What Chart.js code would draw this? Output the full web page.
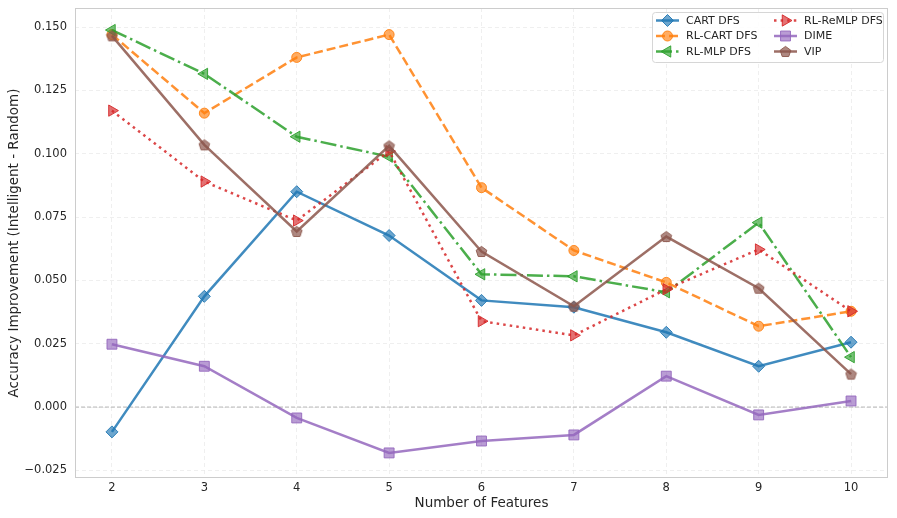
<!DOCTYPE html>
<html>
<head>
<meta charset="utf-8">
<script src="https://cdn.jsdelivr.net/npm/chart.js@4.4.1/dist/chart.umd.min.js"></script>
<style>
  html, body { margin: 0; padding: 0; background: #fff; }
  #wrap { width: 897px; height: 518px; position: relative; }
</style>
</head>
<body>
<div id="wrap"><canvas id="myChart"></canvas></div>
<script>
// values
var features = [2, 3, 4, 5, 6, 7, 8, 9, 10];
var cartDfs   = [-0.0098, 0.0437, 0.0850, 0.0677, 0.0421, 0.0394, 0.0295, 0.0161, 0.0256];
var rlCartDfs = [0.1470, 0.1160, 0.1380, 0.1470, 0.0866, 0.0618, 0.0492, 0.0319, 0.0378];
var rlMlpDfs  = [0.1488, 0.1315, 0.1067, 0.0988, 0.0524, 0.0516, 0.0453, 0.0728, 0.0197];
var rlReMlpDfs = [0.1170, 0.0890, 0.0736, 0.1010, 0.0339, 0.0283, 0.0465, 0.0622, 0.0378];
var dime      = [0.0248, 0.0161, -0.0043, -0.0181, -0.0134, -0.0110, 0.0122, -0.0031, 0.0024];
var vip       = [0.1465, 0.1035, 0.0693, 0.1031, 0.0614, 0.0398, 0.0673, 0.0469, 0.0130];
var yTicks = [-0.025, 0, 0.025, 0.05, 0.075, 0.1, 0.125, 0.15];

var FONT = '"DejaVu Sans", sans-serif';

function rgba(rgb, a) { return 'rgba(' + rgb + ',' + a + ')'; }

// pentagon marker for VIP (Chart.js has no pentagon style)
function pentagon(rgb) {
  var c = document.createElement('canvas');
  c.width = 13; c.height = 13;
  var g = c.getContext('2d');
  g.beginPath();
  for (var k = 0; k < 5; k++) {
    var a = -Math.PI / 2 + k * 2 * Math.PI / 5;
    var px = 6.5 + 5.6 * Math.cos(a), py = 7 + 5.6 * Math.sin(a);
    if (k === 0) g.moveTo(px, py); else g.lineTo(px, py);
  }
  g.closePath();
  g.fillStyle = rgba(rgb, 0.7);
  g.fill();
  g.lineWidth = 1;
  g.strokeStyle = rgba(rgb, 0.9);
  g.stroke();
  return c;
}

function pts(vals) {
  return features.map(function (f, i) { return {x: f, y: vals[i]}; });
}

var series = [
  {label: 'CART DFS', vals: cartDfs, rgb: '31,119,180', dash: [], style: 'rectRot', r: 6, rot: 0},
  {label: 'RL-CART DFS', vals: rlCartDfs, rgb: '255,127,14', dash: [9, 4], style: 'circle', r: 5, rot: 0},
  {label: 'RL-MLP DFS', vals: rlMlpDfs, rgb: '44,160,44', dash: [16, 4, 2.5, 4], style: 'triangle', r: 6.5, rot: -90},
  {label: 'RL-ReMLP DFS', vals: rlReMlpDfs, rgb: '214,39,40', dash: [2.5, 4.1], style: 'triangle', r: 6.5, rot: 90},
  {label: 'DIME', vals: dime, rgb: '148,103,189', dash: [], style: 'rect', r: 7, rot: 0},
  {label: 'VIP', vals: vip, rgb: '140,86,75', dash: [], style: null, r: 6, rot: 0}
];
series[5].style = pentagon(series[5].rgb);

var datasets = series.map(function (s, i) {
  return {
    label: s.label,
    data: pts(s.vals),
    borderColor: rgba(s.rgb, 0.85),
    backgroundColor: rgba(s.rgb, 0.7),
    borderWidth: 2.5,
    borderDash: s.dash,
    tension: 0,
    pointStyle: s.style,
    pointRadius: s.r,
    pointRotation: s.rot,
    pointBackgroundColor: rgba(s.rgb, 0.65),
    pointBorderColor: rgba(s.rgb, 0.9),
    pointBorderWidth: 1,
    order: 6 - i
  };
});

var extras = {
  id: 'extras',
  beforeDatasetsDraw: function (chart) {
    var ctx = chart.ctx, a = chart.chartArea;
    var y0 = chart.scales.y.getPixelForValue(0);
    ctx.save();
    ctx.strokeStyle = '#b5b5b5';
    ctx.lineWidth = 1;
    ctx.setLineDash([4, 2]);
    ctx.beginPath();
    ctx.moveTo(a.left, y0);
    ctx.lineTo(a.right, y0);
    ctx.stroke();
    ctx.restore();
  },
  afterDatasetsDraw: function (chart) {
    var ctx = chart.ctx, a = chart.chartArea;
    ctx.save();
    ctx.strokeStyle = '#cccccc';
    ctx.lineWidth = 1;
    ctx.strokeRect(a.left + 0.5, a.top + 0.5, a.right - a.left - 1, a.bottom - a.top - 1);
    ctx.restore();
  },
  afterDraw: function (chart) {
    var ctx = chart.ctx;
    ctx.save();
    // legend box
    var bx = 652, by = 12, bw = 231, bh = 50;
    ctx.fillStyle = 'rgba(255,255,255,0.85)';
    ctx.strokeStyle = '#d6d6d6';
    ctx.lineWidth = 1;
    ctx.beginPath();
    ctx.roundRect(bx + 0.5, by + 0.5, bw, bh, 3);
    ctx.fill();
    ctx.stroke();
    var cols = [656, 774];
    var rows = [20.5, 36, 51.5];
    ctx.font = '11px ' + FONT;
    ctx.textBaseline = 'middle';
    series.forEach(function (s, i) {
      var x = cols[Math.floor(i / 3)], y = rows[i % 3];
      ctx.strokeStyle = rgba(s.rgb, 0.85);
      ctx.lineWidth = 2.5;
      ctx.setLineDash(s.dash);
      ctx.beginPath();
      ctx.moveTo(x, y);
      ctx.lineTo(x + 23, y);
      ctx.stroke();
      ctx.setLineDash([]);
      ctx.fillStyle = rgba(s.rgb, 0.65);
      ctx.strokeStyle = rgba(s.rgb, 0.9);
      ctx.lineWidth = 1;
      Chart.helpers.drawPoint(ctx, {pointStyle: s.style, radius: s.r, rotation: s.rot, borderWidth: 1}, x + 11.5, y);
      ctx.fillStyle = '#262626';
      ctx.fillText(s.label, x + 30, y + 0.5);
    });
    ctx.restore();
  }
};

var ctx = document.getElementById('myChart').getContext('2d');
var myChart = new Chart(ctx, {
  type: 'line',
  data: { datasets: datasets },
  options: {
    responsive: true,
    maintainAspectRatio: false,
    animation: false,
    layout: { padding: { top: 7, right: 9, left: 0, bottom: 0 } },
    plugins: {
      legend: { display: false },
      tooltip: { enabled: false }
    },
    scales: {
      x: {
        type: 'linear',
        min: 1.6,
        max: 10.4,
        afterBuildTicks: function (scale) {
          scale.ticks = features.map(function (v) { return {value: v}; });
        },
        afterFit: function (scale) {
          scale.height = 40;
          scale.paddingLeft = 0;
          scale.paddingRight = 0;
        },
        grid: { color: '#ebebeb', lineWidth: 0.8, drawTicks: false },
        border: { display: false, dash: [4, 3] },
        ticks: {
          padding: 3,
          color: '#262626',
          font: { family: FONT, size: 11.5 },
          maxRotation: 0,
          callback: function (v) { return String(v); }
        },
        title: {
          display: true,
          text: 'Number of Features',
          color: '#262626',
          font: { family: FONT, size: 13.5 },
          padding: { top: 0, bottom: 6 }
        }
      },
      y: {
        type: 'linear',
        min: -0.028,
        max: 0.1575,
        afterBuildTicks: function (scale) {
          scale.ticks = yTicks.map(function (v) { return {value: v}; });
        },
        afterFit: function (scale) {
          scale.width = 75;
          scale.paddingTop = 0;
          scale.paddingBottom = 0;
        },
        grid: { color: '#ebebeb', lineWidth: 0.8, drawTicks: false },
        border: { display: false, dash: [4, 3] },
        ticks: {
          padding: 8,
          color: '#262626',
          font: { family: FONT, size: 11.5 },
          callback: function (v) { return v.toFixed(3).replace('-', '\u2212'); }
        },
        title: {
          display: true,
          text: 'Accuracy Improvement (Intelligent - Random)',
          color: '#262626',
          font: { family: FONT, size: 13.5 },
          padding: { top: 6, bottom: 0 }
        }
      }
    }
  },
  plugins: [extras]
});
</script>
</body>
</html>
